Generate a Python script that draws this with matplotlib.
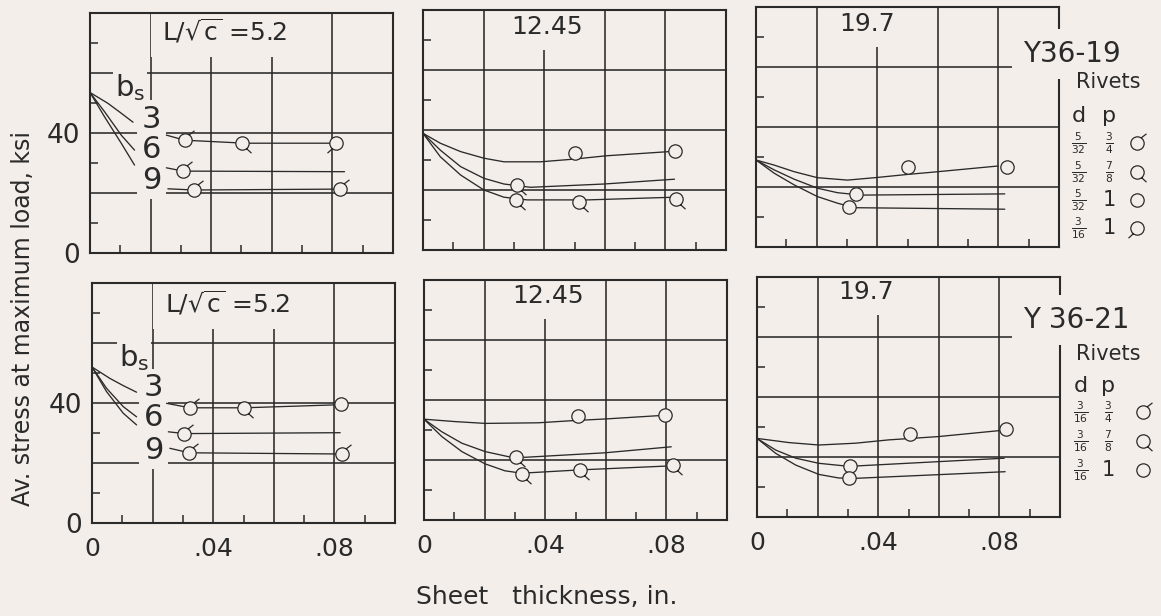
import numpy as np
import matplotlib
matplotlib.use("Agg")
import matplotlib.pyplot as plt
from matplotlib.path import Path

plt.rcParams["font.family"] = ["DejaVu Sans"]
plt.rcParams["mathtext.fontset"] = "dejavusans"

W, H = 1161, 616
INK = "#2a2a2a"
PAPER = "#f4eeea"

# ---------------- axis scales ----------------
thickness_major = [0.0, 0.02, 0.04, 0.06, 0.08, 0.10]
thickness_minor = [0.01, 0.03, 0.05, 0.07, 0.09]
thickness_labels = ["0", "", ".04", "", ".08", ""]
stress_major = [0, 20, 40, 60, 80]
stress_minor = [10, 30, 50, 70]
stress_labels = ["0", "", "40", "", ""]

# ---------------- Y36-19, L/sqrt(c) = 5.2 ----------------
a_fan3_t = [0.0, 0.0059, 0.0103, 0.0142]
a_fan3_s = [53.5, 49.9, 46.6, 43.6]
a_fan6_t = [0.0, 0.0048, 0.0103, 0.0147]
a_fan6_s = [53.5, 47.1, 39.3, 34.3]
a_fan9_t = [0.0, 0.0048, 0.0103, 0.0147]
a_fan9_s = [53.5, 45.4, 36.6, 29.3]
a_bs3_t = [0.0252, 0.0312, 0.0511, 0.0813]
a_bs3_s = [39.3, 37.6, 36.6, 36.6]
a_bs3_pt_t = [0.0312, 0.0502, 0.0813]
a_bs3_pt_s = [37.7, 36.6, 36.6]
a_bs3_pt_m = ["sigma", "q", "rho"]
a_bs6_t = [0.0252, 0.0307, 0.0840]
a_bs6_s = [28.4, 27.3, 27.1]
a_bs6_pt_t = [0.0307]
a_bs6_pt_s = [27.3]
a_bs6_pt_m = ["sigma"]
a_bs9_t = [0.0257, 0.0343, 0.0826]
a_bs9_s = [21.4, 21.0, 21.3]
a_bs9_pt_t = [0.0343, 0.0826]
a_bs9_pt_s = [21.0, 21.3]
a_bs9_pt_m = ["sigma", "sigma"]

# ---------------- Y36-19, L/sqrt(c) = 12.45 ----------------
b_top_t = [0.0, 0.0057, 0.0124, 0.0201, 0.0267, 0.0388, 0.0499, 0.0604, 0.0813]
b_top_s = [38.9, 35.6, 32.8, 30.6, 29.4, 29.4, 30.3, 31.4, 32.8]
b_top_pt_t = [0.0501, 0.0832]
b_top_pt_s = [32.2, 33.1]
b_top_pt_m = ["o", "o"]
b_mid_t = [0.0, 0.0057, 0.0124, 0.0201, 0.0267, 0.0355, 0.0598, 0.0830]
b_mid_s = [38.9, 33.3, 27.8, 23.9, 22.0, 20.9, 22.0, 23.6]
b_mid_pt_t = [0.0311]
b_mid_pt_s = [21.7]
b_mid_pt_m = ["q"]
b_low_t = [0.0, 0.0057, 0.0124, 0.0201, 0.0267, 0.0344, 0.0543, 0.0830]
b_low_s = [38.9, 31.1, 25.0, 20.0, 17.6, 16.7, 16.7, 17.6]
b_low_pt_t = [0.0306, 0.0515, 0.0835]
b_low_pt_s = [16.7, 16.1, 16.9]
b_low_pt_m = ["q", "q", "q"]

# ---------------- Y36-19, L/sqrt(c) = 19.7 ----------------
c_top_t = [0.0, 0.0060, 0.0126, 0.0203, 0.0302, 0.0402, 0.0501, 0.0600, 0.0799]
c_top_s = [29.0, 27.3, 25.1, 23.1, 22.3, 23.2, 24.2, 25.1, 27.0]
c_top_pt_t = [0.0503, 0.0827]
c_top_pt_s = [26.8, 26.6]
c_top_pt_m = ["o", "o"]
c_mid_t = [0.0, 0.0060, 0.0126, 0.0203, 0.0269, 0.0347, 0.0821]
c_mid_s = [29.0, 25.7, 22.6, 19.6, 18.1, 17.3, 17.7]
c_mid_pt_t = [0.0330]
c_mid_pt_s = [17.6]
c_mid_pt_m = ["o"]
c_low_t = [0.0, 0.0060, 0.0126, 0.0203, 0.0269, 0.0325, 0.0821]
c_low_s = [29.0, 24.6, 20.7, 16.8, 14.6, 13.1, 12.6]
c_low_pt_t = [0.0306]
c_low_pt_s = [13.4]
c_low_pt_m = ["o"]

# ---------------- Y36-21, L/sqrt(c) = 5.2 ----------------
d_fan3_t = [0.0, 0.0059, 0.0103, 0.0147]
d_fan3_s = [52.0, 48.2, 45.8, 43.6]
d_fan6_t = [0.0, 0.0048, 0.0103, 0.0147]
d_fan6_s = [52.0, 44.9, 38.8, 35.4]
d_fan9_t = [0.0, 0.0048, 0.0103, 0.0147]
d_fan9_s = [52.0, 43.8, 36.6, 32.7]
d_bs3_t = [0.0246, 0.0323, 0.0502, 0.0810]
d_bs3_s = [39.9, 38.4, 38.4, 39.4]
d_bs3_pt_t = [0.0323, 0.0502, 0.0821]
d_bs3_pt_s = [38.2, 38.4, 39.6]
d_bs3_pt_m = ["sigma", "q", "o"]
d_bs6_t = [0.0252, 0.0305, 0.0819]
d_bs6_s = [30.4, 29.8, 30.1]
d_bs6_pt_t = [0.0305]
d_bs6_pt_s = [29.7]
d_bs6_pt_m = ["sigma"]
d_bs9_t = [0.0257, 0.0321, 0.0824]
d_bs9_s = [24.9, 23.4, 23.0]
d_bs9_pt_t = [0.0321, 0.0824]
d_bs9_pt_s = [23.4, 23.0]
d_bs9_pt_m = ["sigma", "sigma"]

# ---------------- Y36-21, L/sqrt(c) = 12.45 ----------------
e_top_t = [0.0, 0.0103, 0.0202, 0.0377, 0.0487, 0.0602, 0.0777]
e_top_s = [33.6, 32.8, 32.2, 32.4, 33.1, 33.7, 34.8]
e_top_pt_t = [0.0507, 0.0797]
e_top_pt_s = [34.7, 35.0]
e_top_pt_m = ["o", "o"]
e_mid_t = [0.0, 0.0059, 0.0125, 0.0202, 0.0279, 0.0333, 0.0597, 0.0816]
e_mid_s = [33.6, 29.4, 25.6, 22.8, 21.1, 20.9, 22.4, 24.4]
e_mid_pt_t = [0.0304]
e_mid_pt_s = [20.9]
e_mid_pt_m = ["q"]
e_low_t = [0.0, 0.0059, 0.0125, 0.0202, 0.0267, 0.0322, 0.0514, 0.0805]
e_low_s = [33.6, 27.8, 22.8, 18.7, 16.4, 15.6, 16.7, 18.0]
e_low_pt_t = [0.0322, 0.0514, 0.0823]
e_low_pt_s = [15.3, 16.7, 18.3]
e_low_pt_m = ["q", "q", "q"]

# ---------------- Y36-21, L/sqrt(c) = 19.7 ----------------
f_top_t = [0.0, 0.0106, 0.0204, 0.0325, 0.0434, 0.0598, 0.0800]
f_top_s = [26.2, 24.8, 24.0, 24.6, 25.7, 26.8, 28.8]
f_top_pt_t = [0.0506, 0.0822]
f_top_pt_s = [27.6, 29.3]
f_top_pt_m = ["o", "o"]
f_mid_t = [0.0, 0.0062, 0.0128, 0.0204, 0.0292, 0.0325, 0.0816]
f_mid_s = [26.2, 22.3, 19.6, 17.9, 17.0, 17.0, 19.6]
f_mid_pt_t = [0.0306]
f_mid_pt_s = [17.1]
f_mid_pt_m = ["o"]
f_low_t = [0.0, 0.0062, 0.0128, 0.0204, 0.0270, 0.0327, 0.0819]
f_low_s = [26.2, 21.2, 17.3, 14.2, 13.0, 12.9, 15.1]
f_low_pt_t = [0.0305]
f_low_pt_s = [12.9]
f_low_pt_m = ["o"]

# ---------------- panel headings and labels ----------------
bs_values = ["3", "6", "9"]
a_bs_label_s = [44.5, 34.5, 24.3]
d_bs_label_s = [45.0, 35.3, 24.3]
panel_titles = [r"$\mathrm{L/\sqrt{c}}$ =5.2", "12.45", "19.7",
                r"$\mathrm{L/\sqrt{c}}$ =5.2", "12.45", "19.7"]
specimens = ["Y36-19", "Y 36-21"]
y19_rivet_d = [r"$\frac{5}{32}$", r"$\frac{5}{32}$", r"$\frac{5}{32}$", r"$\frac{3}{16}$"]
y19_rivet_p = [r"$\frac{3}{4}$", r"$\frac{7}{8}$", "1", "1"]
y19_rivet_m = ["sigma", "q", "o", "rho"]
y21_rivet_d = [r"$\frac{3}{16}$", r"$\frac{3}{16}$", r"$\frac{3}{16}$"]
y21_rivet_p = [r"$\frac{3}{4}$", r"$\frac{7}{8}$", "1"]
y21_rivet_m = ["sigma", "q", "o"]


# ---------------- marker glyphs: open circle with a rivet tag ----------------
def tagged(x0, y0, x1, y1):
    tail = Path([(x0, y0), (x1, y1)], [Path.MOVETO, Path.LINETO])
    return Path.make_compound_path(Path.unit_circle(), tail)


GLYPHS = {
    "sigma": tagged(0.55, 0.84, 1.35, 1.45),
    "q": tagged(0.62, -0.78, 1.35, -1.45),
    "rho": tagged(-0.62, -0.78, -1.35, -1.45),
    "o": Path.unit_circle(),
}
CIRCLE_PT = 9.6


def glyph_size(name):
    return CIRCLE_PT * np.max(np.abs(GLYPHS[name].vertices))


def draw_points(ax, ts, ss, names):
    for t, s, m in zip(ts, ss, names):
        ax.plot([t], [s], linestyle="none", marker=GLYPHS[m],
                markersize=glyph_size(m), markerfacecolor=PAPER,
                markeredgecolor=INK, markeredgewidth=0.9, zorder=4)


# ---------------- figure ----------------
fig = plt.figure(figsize=(W / 100, H / 100), dpi=100)
fig.patch.set_facecolor(PAPER)

AX_W, AX_H = 303, 240
panel_origin = [(90, 253), (423, 250), (756, 247),
                (92, 523), (424, 520), (757, 517)]

MASK = dict(boxstyle="square,pad=0.15", fc=PAPER, ec="none")


def make_panel(idx):
    left, bottom = panel_origin[idx]
    ax = fig.add_axes([left / W, 1 - bottom / H, AX_W / W, AX_H / H])
    ax.set_facecolor(PAPER)
    ax.set_xlim(0, 0.1)
    ax.set_ylim(0, 80)
    ax.set_xticks(thickness_major)
    ax.set_xticks(thickness_minor, minor=True)
    ax.set_yticks(stress_major)
    ax.set_yticks(stress_minor, minor=True)
    ax.set_axisbelow(True)
    ax.grid(which="major", color=INK, linewidth=1.15)
    for sp in ax.spines.values():
        sp.set_color(INK)
        sp.set_linewidth(1.5)
    ax.tick_params(which="major", length=0, colors=INK, labelsize=18)
    ax.tick_params(which="minor", direction="in", length=6, width=1.1,
                   color=INK)
    ax.tick_params(axis="y", which="major", pad=7, labelsize=19)
    ax.tick_params(axis="x", which="major", pad=10)
    if idx in (0, 3):
        ax.set_yticklabels(stress_labels)
    else:
        ax.set_yticklabels([])
    if idx >= 3:
        ax.set_xticklabels(thickness_labels)
    else:
        ax.set_xticklabels([])
    return ax


def curve(ax, t, s):
    ax.plot(t, s, color=INK, linewidth=0.95, zorder=3,
            solid_capstyle="round", solid_joinstyle="round")


title_pos = [(0.0445, 74.0), (0.0411, 74.3), (0.0368, 74.3),
             (0.0446, 73.3), (0.0408, 74.7), (0.0360, 75.0)]

axes = [make_panel(i) for i in range(6)]

for i, ax in enumerate(axes):
    tx, ty = title_pos[i]
    ax.text(tx, ty, panel_titles[i], ha="center", va="center", fontsize=18,
            color=INK, zorder=2,
            bbox=dict(boxstyle="square,pad=0.45", fc=PAPER, ec="none"))

# short-column fan curves and b_s labels
for ax, fans, label_s, bs_xy in (
        (axes[0], [(a_fan3_t, a_fan3_s), (a_fan6_t, a_fan6_s), (a_fan9_t, a_fan9_s)],
         a_bs_label_s, (0.0132, 55.3)),
        (axes[3], [(d_fan3_t, d_fan3_s), (d_fan6_t, d_fan6_s), (d_fan9_t, d_fan9_s)],
         d_bs_label_s, (0.0139, 55.3))):
    for t, s in fans:
        curve(ax, t, s)
    lx = 0.0203
    for v, ys in zip(bs_values, label_s):
        ax.text(lx, ys, v, ha="center", va="center", fontsize=22, color=INK,
                zorder=2, bbox=MASK)
    ax.text(bs_xy[0], bs_xy[1], r"$\mathrm{b_s}$", ha="center", va="center",
            fontsize=21, color=INK, zorder=2,
            bbox=dict(boxstyle="square,pad=0.05", fc=PAPER, ec="none"))

series = [
    (0, a_bs3_t, a_bs3_s, a_bs3_pt_t, a_bs3_pt_s, a_bs3_pt_m),
    (0, a_bs6_t, a_bs6_s, a_bs6_pt_t, a_bs6_pt_s, a_bs6_pt_m),
    (0, a_bs9_t, a_bs9_s, a_bs9_pt_t, a_bs9_pt_s, a_bs9_pt_m),
    (1, b_top_t, b_top_s, b_top_pt_t, b_top_pt_s, b_top_pt_m),
    (1, b_mid_t, b_mid_s, b_mid_pt_t, b_mid_pt_s, b_mid_pt_m),
    (1, b_low_t, b_low_s, b_low_pt_t, b_low_pt_s, b_low_pt_m),
    (2, c_top_t, c_top_s, c_top_pt_t, c_top_pt_s, c_top_pt_m),
    (2, c_mid_t, c_mid_s, c_mid_pt_t, c_mid_pt_s, c_mid_pt_m),
    (2, c_low_t, c_low_s, c_low_pt_t, c_low_pt_s, c_low_pt_m),
    (3, d_bs3_t, d_bs3_s, d_bs3_pt_t, d_bs3_pt_s, d_bs3_pt_m),
    (3, d_bs6_t, d_bs6_s, d_bs6_pt_t, d_bs6_pt_s, d_bs6_pt_m),
    (3, d_bs9_t, d_bs9_s, d_bs9_pt_t, d_bs9_pt_s, d_bs9_pt_m),
    (4, e_top_t, e_top_s, e_top_pt_t, e_top_pt_s, e_top_pt_m),
    (4, e_mid_t, e_mid_s, e_mid_pt_t, e_mid_pt_s, e_mid_pt_m),
    (4, e_low_t, e_low_s, e_low_pt_t, e_low_pt_s, e_low_pt_m),
    (5, f_top_t, f_top_s, f_top_pt_t, f_top_pt_s, f_top_pt_m),
    (5, f_mid_t, f_mid_s, f_mid_pt_t, f_mid_pt_s, f_mid_pt_m),
    (5, f_low_t, f_low_s, f_low_pt_t, f_low_pt_s, f_low_pt_m),
]
for idx, lt, ls, pt, ps, pm in series:
    curve(axes[idx], lt, ls)
    draw_points(axes[idx], pt, ps, pm)

# ---------------- overlay for shared labels and rivet keys ----------------
ov = fig.add_axes([0, 0, 1, 1], zorder=10)
ov.set_xlim(0, W)
ov.set_ylim(H, 0)
ov.axis("off")
ov.patch.set_alpha(0)

ov.text(23, 319, "Av. stress at maximum load, ksi", rotation=90,
        ha="center", va="center", fontsize=17, color=INK)
ov.text(547, 597, "Sheet   thickness, in.", ha="center", va="center",
        fontsize=18, color=INK)

SPEC_BOX = dict(boxstyle="square,pad=0.4", fc=PAPER, ec="none")


def rivet_key(spec, spec_xy, rivets_y, head_y, rows_y, d_x, p_x, m_x,
              d_vals, p_vals, m_vals):
    ov.text(spec_xy[0], spec_xy[1], spec, ha="center", va="center",
            fontsize=20, color=INK, bbox=SPEC_BOX)
    ov.text(1108, rivets_y, "Rivets", ha="center", va="center", fontsize=15,
            color=INK)
    ov.text(d_x, head_y, "d", ha="center", va="baseline", fontsize=16, color=INK)
    ov.text(p_x, head_y, "p", ha="center", va="baseline", fontsize=16, color=INK)
    for y, dv, pv, mv in zip(rows_y, d_vals, p_vals, m_vals):
        ov.text(d_x, y, dv, ha="center", va="center", fontsize=11, color=INK)
        ov.text(p_x, y, pv, ha="center", va="center",
                fontsize=11 if pv.startswith("$") else 15, color=INK)
        ov.plot([m_x], [y], linestyle="none", marker=GLYPHS[mv],
                markersize=glyph_size(mv), markerfacecolor=PAPER,
                markeredgecolor=INK, markeredgewidth=0.9)


rivet_key(specimens[0], (1072, 54), 82, 122, [143, 172, 200, 228],
          1079, 1109, 1137, y19_rivet_d, y19_rivet_p, y19_rivet_m)
rivet_key(specimens[1], (1076, 320), 354, 392, [412, 441, 470],
          1081, 1108, 1143, y21_rivet_d, y21_rivet_p, y21_rivet_m)

fig.savefig("out.png", dpi=100, facecolor=PAPER)
